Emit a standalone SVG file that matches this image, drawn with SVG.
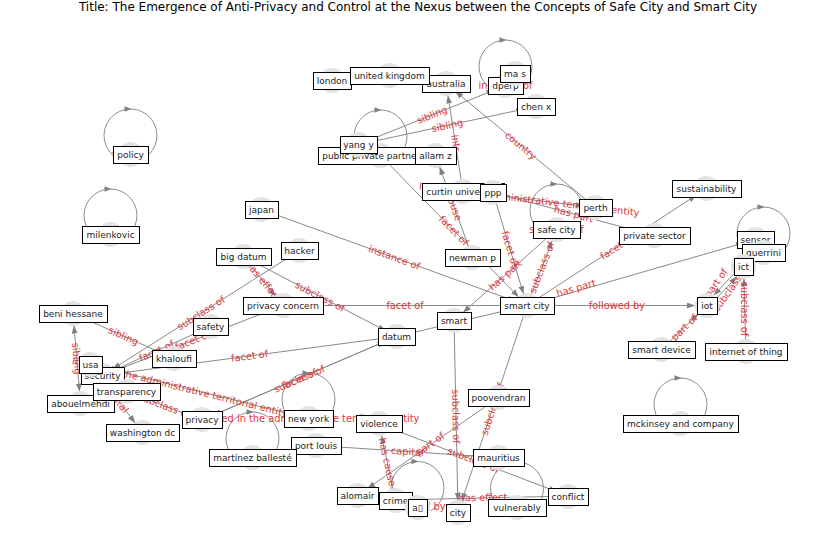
<svg xmlns="http://www.w3.org/2000/svg" xmlns:xlink="http://www.w3.org/1999/xlink" width="837" height="559" viewBox="0 0 837 559">
<defs>
<marker id="ah" markerUnits="userSpaceOnUse" markerWidth="8" markerHeight="6" refX="8" refY="3" orient="auto-start-reverse" viewBox="0 0 8 6"><path d="M0,0 L8,3 L0,6 Z" fill="#808080"/></marker>
<path id="la" d="M-3.5,-2.8 L3.5,0 L-3.5,2.8 Z" fill="#808080"/>
</defs>
<style>
.e{stroke:#8a8a8a;stroke-width:1;fill:none;marker-end:url(#ah)}
.lp{stroke:#8c8c8c;stroke-width:1;fill:none}
.el{font-family:"DejaVu Sans",sans-serif;font-size:9.8px;fill:#d9383a;text-anchor:middle}
.nc{fill:#e3e3e3}
.nb{fill:#fff;stroke:#000;stroke-width:1;shape-rendering:crispEdges}
.nt{font-family:"DejaVu Sans",sans-serif;font-size:9px;fill:#222;text-anchor:middle}
.ti{font-family:"DejaVu Sans",sans-serif;font-size:12px;fill:#000;text-anchor:middle}
</style>
<rect width="837" height="559" fill="#fff"/>
<text class="ti" x="418" y="11">Title: The Emergence of Anti-Privacy and Control at the Nexus between the Concepts of Safe City and Smart City</text>

<g id="connectors">
<path class="e" d="M358.5,144.5 L494.4,90"/>
<path class="e" d="M358.5,144.5 L524.3,109"/>
<path class="e" d="M463,191.5 L447.9,95.4"/>
<path class="e" d="M595.5,207.5 L455.2,91.2"/>
<path class="e" d="M463,191.5 L583.6,206.1"/>
<path class="e" d="M493,192.5 L642.9,232.4"/>
<path class="e" d="M472.5,257.5 L439.6,166.8"/>
<path class="e" d="M380.5,155.5 L518.6,296.9"/>
<path class="e" d="M493,192.5 L523.5,294"/>
<path class="e" d="M527,305.5 L552.2,240.7"/>
<path class="e" d="M556.5,229.5 L463,312.5"/>
<path class="e" d="M261.5,209.5 L515.7,301.4"/>
<path class="e" d="M243.5,256.5 L385.9,330.9"/>
<path class="e" d="M243.5,256.5 L275.5,296.2"/>
<path class="e" d="M299.5,250.5 L112.6,369.1"/>
<path class="e" d="M283,305.5 L113.7,371.2"/>
<path class="e" d="M210.5,326.5 L113.4,370.5"/>
<path class="e" d="M396.5,336.5 L114.4,373.9"/>
<path class="e" d="M396.5,336.5 L213,415.3"/>
<path class="e" d="M202,420 L385.5,341.2"/>
<path class="e" d="M396.5,336.5 L515.3,308.3"/>
<path class="e" d="M283,305.5 L515,305.5"/>
<path class="e" d="M527,305.5 L695,305.5"/>
<path class="e" d="M527,305.5 L696.4,195.1"/>
<path class="e" d="M527,305.5 L744,242.8"/>
<path class="e" d="M661.5,349.5 L698.4,313.8"/>
<path class="e" d="M708.5,306.9 L736.8,276.7"/>
<path class="e" d="M742,265.1 L713.7,295.3"/>
<path class="e" d="M746,351.5 L743.9,278.5"/>
<path class="e" d="M73,313.5 L163,353.6"/>
<path class="e" style="marker-start:url(#ah)" d="M74,325.5 L79.5,391.5"/>
<path class="e" d="M308.5,418.5 L102.1,367.4"/>
<path class="e" d="M90.5,364.5 L135.2,423"/>
<path class="e" d="M202,420 L137.7,395.7"/>
<path class="e" d="M498.5,457.5 L328,446.3"/>
<path class="e" d="M498.5,397.5 L367.4,488.6"/>
<path class="e" d="M395.5,500 L381.5,435.7"/>
<path class="e" d="M379,424 L556.8,491.7"/>
<path class="e" d="M395.5,500 L556,496.3"/>
<path class="e" d="M454,320.5 L457.8,500.5"/>
<path class="e" d="M527,305.5 L461.8,501.1"/>
<!-- self loops -->
<path class="lp" d="M117.2,158.4 A26.5,26.5 0 1 1 143.8,158.4"/><use xlink:href="#la" href="#la" x="128" y="109"/>
<path class="lp" d="M97.2,238.4 A26.5,26.5 0 1 1 123.8,238.4"/><use xlink:href="#la" href="#la" x="108" y="189"/>
<path class="lp" d="M367.2,159.4 A26.5,26.5 0 1 1 393.8,159.4"/><use xlink:href="#la" href="#la" x="378" y="110"/>
<path class="lp" d="M492.2,89.4 A26.5,26.5 0 1 1 518.8,89.4"/><use xlink:href="#la" href="#la" x="503" y="40"/>
<path class="lp" d="M543.2,233.4 A26.5,26.5 0 1 1 569.8,233.4"/><use xlink:href="#la" href="#la" x="554" y="184"/>
<path class="lp" d="M750.2,256.4 A26.5,26.5 0 1 1 776.8,256.4"/><use xlink:href="#la" href="#la" x="761" y="207"/>
<path class="lp" d="M295.2,422.4 A26.5,26.5 0 1 1 321.8,422.4"/><use xlink:href="#la" href="#la" x="306" y="373"/>
<path class="lp" d="M239.2,461.4 A26.5,26.5 0 1 1 265.8,461.4"/><use xlink:href="#la" href="#la" x="250" y="412"/>
<path class="lp" d="M404.2,510.9 A26.5,26.5 0 1 1 430.8,510.9"/><use xlink:href="#la" href="#la" x="415" y="461.5"/>
<path class="lp" d="M503.7,511.4 A26.5,26.5 0 1 1 530.3,511.4"/><use xlink:href="#la" href="#la" x="514" y="462"/>
<path class="lp" d="M667.2,427.4 A26.5,26.5 0 1 1 693.8,427.4"/><use xlink:href="#la" href="#la" x="678" y="378"/>
</g>

<g id="edge-labels">
<text class="el" transform="translate(432,115) rotate(-21.9)" dy="3.4">sibling</text>
<text class="el" transform="translate(447.3,125.5) rotate(-12.1)" dy="3.4">sibling</text>
<text class="el" transform="translate(456,143) rotate(81)" dy="3.4">intr</text>
<text class="el" transform="translate(520.8,145.5) rotate(39.7)" dy="3.4">country</text>
<text class="el" transform="translate(529.3,199.5) rotate(6.9)" dy="3.4">located in the administrative territorial entity</text>
<text class="el" transform="translate(573.8,214) rotate(14.9)" dy="3.4">has part</text>
<text class="el" transform="translate(454,206.5) rotate(70)" dy="3.4">house</text>
<text class="el" transform="translate(453.8,230.5) rotate(45.7)" dy="3.4">facet of</text>
<text class="el" transform="translate(510,249) rotate(73.3)" dy="3.4">facet of</text>
<text class="el" transform="translate(541.8,267.5) rotate(-68.8)" dy="3.4">subclass of</text>
<text class="el" transform="translate(505.3,275) rotate(-41.6)" dy="3.4">has part</text>
<text class="el" transform="translate(394.3,257.5) rotate(19.9)" dy="3.4">instance of</text>
<text class="el" transform="translate(320,296.5) rotate(27.6)" dy="3.4">subclass of</text>
<text class="el" transform="translate(263.3,281) rotate(51.1)" dy="3.4">has effect</text>
<text class="el" transform="translate(201,313) rotate(-32.4)" dy="3.4">subclass of</text>
<text class="el" transform="translate(192.8,340.5) rotate(-21.2)" dy="3.4">facet of</text>
<text class="el" transform="translate(156.5,351) rotate(-24.4)" dy="3.4">facet of</text>
<text class="el" transform="translate(249.5,356) rotate(-7.6)" dy="3.4">facet of</text>
<text class="el" transform="translate(299.3,379) rotate(-23.2)" dy="3.4">subclass of</text>
<text class="el" transform="translate(299.3,379) rotate(-23.2)" dy="3.4">facet of</text>
<text class="el" transform="translate(405,305.5)" dy="3.4">facet of</text>
<text class="el" transform="translate(617,305.5)" dy="3.4">followed by</text>
<text class="el" transform="translate(616.8,247) rotate(-33.1)" dy="3.4">facet of</text>
<text class="el" transform="translate(576,288) rotate(-16)" dy="3.4">has part</text>
<text class="el" transform="translate(684.3,327.5) rotate(-44)" dy="3.4">part of</text>
<text class="el" transform="translate(716,283) rotate(-55)" dy="3.4">part of</text>
<text class="el" transform="translate(731,288) rotate(-55)" dy="3.4">subclass of</text>
<text class="el" transform="translate(744.8,309) rotate(90)" dy="3.4">subclass of</text>
<text class="el" transform="translate(123.5,336) rotate(24)" dy="3.4">sibling</text>
<text class="el" transform="translate(76.8,358.5) rotate(85)" dy="3.4">sibling</text>
<text class="el" transform="translate(180,387) rotate(13.9)" dy="3.4">located in the administrative territorial entity</text>
<text class="el" transform="translate(116.5,398.5) rotate(52.6)" dy="3.4">capital</text>
<text class="el" transform="translate(164.3,405.8) rotate(20.7)" dy="3.4">subclass of</text>
<text class="el" transform="translate(407.3,451.5) rotate(3.8)" dy="3.4">capital</text>
<text class="el" transform="translate(430,444) rotate(-34.8)" dy="3.4">part of</text>
<text class="el" transform="translate(387.3,462) rotate(77.8)" dy="3.4">has cause</text>
<text class="el" transform="translate(473.5,460) rotate(20.9)" dy="3.4">subclass of</text>
<text class="el" transform="translate(483,497.5) rotate(-1.3)" dy="3.4">has effect</text>
<text class="el" transform="translate(456,416.5) rotate(88.8)" dy="3.4">subclass of</text>
<text class="el" transform="translate(492.5,409) rotate(-71.6)" dy="3.4">subclass of</text>
<text class="el" transform="translate(130.5,154.5)" dy="3.4">facet of</text>
<text class="el" transform="translate(505.5,85.5)" dy="3.4">instance of</text>
<text class="el" transform="translate(556.5,229.5)" dy="3.4">subclass of</text>
<text class="el" transform="translate(308.5,418.5)" dy="3.4">located in the administrative territorial entity</text>
<text class="el" transform="translate(417.5,507)" dy="3.4">followed by</text>
</g>

<g id="n-london"><circle class="nc" cx="332" cy="80.5" r="12.5"/><rect class="nb" x="313" y="72" width="38" height="17"/><text class="nt" x="332" y="83.7">london</text></g>
<g id="n-australia"><circle class="nc" cx="446" cy="83.5" r="12.5"/><rect class="nb" x="422" y="75" width="48" height="17"/><text class="nt" x="446" y="86.7">australia</text></g>
<g id="n-united-kingdom"><circle class="nc" cx="389.5" cy="75.5" r="12.5"/><rect class="nb" x="350" y="67" width="79" height="17"/><text class="nt" x="389.5" y="78.7">united kingdom</text></g>
<g id="n-dperp"><circle class="nc" cx="505.5" cy="85.5" r="12.5"/><rect class="nb" x="488" y="77" width="35" height="17"/><text class="nt" x="505.5" y="88.7">dperp</text></g>
<g id="n-ma-s"><circle class="nc" cx="515" cy="73.5" r="12.5"/><rect class="nb" x="500" y="65" width="30" height="17"/><text class="nt" x="515" y="76.7">ma s</text></g>
<g id="n-chen-x"><circle class="nc" cx="536" cy="106.5" r="12.5"/><rect class="nb" x="517" y="98" width="38" height="17"/><text class="nt" x="536" y="109.7">chen x</text></g>
<g id="n-policy"><circle class="nc" cx="130.5" cy="154.5" r="12.5"/><rect class="nb" x="113" y="146" width="35" height="17"/><text class="nt" x="130.5" y="157.7">policy</text></g>
<g id="n-public-private-partnership"><circle class="nc" cx="380.5" cy="155.5" r="12.5"/><rect class="nb" x="318" y="147" width="125" height="17"/><text class="nt" x="380.5" y="158.7">public private partnership</text></g>
<g id="n-yang-y"><circle class="nc" cx="358.5" cy="144.5" r="12.5"/><rect class="nb" x="340" y="136" width="37" height="17"/><text class="nt" x="358.5" y="147.7">yang y</text></g>
<g id="n-allam-z"><circle class="nc" cx="435.5" cy="155.5" r="12.5"/><rect class="nb" x="415" y="147" width="41" height="17"/><text class="nt" x="435.5" y="158.7">allam z</text></g>
<g id="n-curtin-university"><circle class="nc" cx="463" cy="191.5" r="12.5"/><rect class="nb" x="422" y="183" width="82" height="17"/><text class="nt" x="463" y="194.7">curtin university</text></g>
<g id="n-ppp"><circle class="nc" cx="493" cy="192.5" r="12.5"/><rect class="nb" x="480" y="184" width="26" height="17"/><text class="nt" x="493" y="195.7">ppp</text></g>
<g id="n-perth"><circle class="nc" cx="595.5" cy="207.5" r="12.5"/><rect class="nb" x="579" y="199" width="33" height="17"/><text class="nt" x="595.5" y="210.7">perth</text></g>
<g id="n-sustainability"><circle class="nc" cx="706.5" cy="188.5" r="12.5"/><rect class="nb" x="672" y="180" width="69" height="17"/><text class="nt" x="706.5" y="191.7">sustainability</text></g>
<g id="n-safe-city"><circle class="nc" cx="556.5" cy="229.5" r="12.5"/><rect class="nb" x="533" y="221" width="47" height="17"/><text class="nt" x="556.5" y="232.7">safe city</text></g>
<g id="n-private-sector"><circle class="nc" cx="654.5" cy="235.5" r="12.5"/><rect class="nb" x="619" y="227" width="71" height="17"/><text class="nt" x="654.5" y="238.7">private sector</text></g>
<g id="n-sensor"><circle class="nc" cx="755.5" cy="239.5" r="12.5"/><rect class="nb" x="737" y="231" width="37" height="17"/><text class="nt" x="755.5" y="242.7">sensor</text></g>
<g id="n-guerrini"><circle class="nc" cx="763.5" cy="252.5" r="12.5"/><rect class="nb" x="742" y="244" width="43" height="17"/><text class="nt" x="763.5" y="255.7">guerrini</text></g>
<g id="n-ict"><circle class="nc" cx="743.5" cy="266.5" r="12.5"/><rect class="nb" x="734" y="258" width="19" height="17"/><text class="nt" x="743.5" y="269.7">ict</text></g>
<g id="n-japan"><circle class="nc" cx="261.5" cy="209.5" r="12.5"/><rect class="nb" x="245" y="201" width="33" height="17"/><text class="nt" x="261.5" y="212.7">japan</text></g>
<g id="n-milenkovic"><circle class="nc" cx="110.5" cy="234.5" r="12.5"/><rect class="nb" x="82" y="226" width="57" height="17"/><text class="nt" x="110.5" y="237.7">milenkovic</text></g>
<g id="n-hacker"><circle class="nc" cx="299.5" cy="250.5" r="12.5"/><rect class="nb" x="281" y="242" width="37" height="17"/><text class="nt" x="299.5" y="253.7">hacker</text></g>
<g id="n-big-datum"><circle class="nc" cx="243.5" cy="256.5" r="12.5"/><rect class="nb" x="216" y="248" width="55" height="17"/><text class="nt" x="243.5" y="259.7">big datum</text></g>
<g id="n-newman-p"><circle class="nc" cx="472.5" cy="257.5" r="12.5"/><rect class="nb" x="445" y="249" width="55" height="17"/><text class="nt" x="472.5" y="260.7">newman p</text></g>
<g id="n-privacy-concern"><circle class="nc" cx="283" cy="305.5" r="12.5"/><rect class="nb" x="243" y="297" width="80" height="17"/><text class="nt" x="283" y="308.7">privacy concern</text></g>
<g id="n-smart-city"><circle class="nc" cx="527" cy="305.5" r="12.5"/><rect class="nb" x="500" y="297" width="54" height="17"/><text class="nt" x="527" y="308.7">smart city</text></g>
<g id="n-iot"><circle class="nc" cx="707" cy="305.5" r="12.5"/><rect class="nb" x="697" y="297" width="20" height="17"/><text class="nt" x="707" y="308.7">iot</text></g>
<g id="n-beni-hessane"><circle class="nc" cx="73" cy="313.5" r="12.5"/><rect class="nb" x="39" y="305" width="68" height="17"/><text class="nt" x="73" y="316.7">beni hessane</text></g>
<g id="n-safety"><circle class="nc" cx="210.5" cy="326.5" r="12.5"/><rect class="nb" x="193" y="318" width="35" height="17"/><text class="nt" x="210.5" y="329.7">safety</text></g>
<g id="n-smart"><circle class="nc" cx="454" cy="320.5" r="12.5"/><rect class="nb" x="437" y="312" width="34" height="17"/><text class="nt" x="454" y="323.7">smart</text></g>
<g id="n-datum"><circle class="nc" cx="396.5" cy="336.5" r="12.5"/><rect class="nb" x="378" y="328" width="37" height="17"/><text class="nt" x="396.5" y="339.7">datum</text></g>
<g id="n-smart-device"><circle class="nc" cx="661.5" cy="349.5" r="12.5"/><rect class="nb" x="628" y="341" width="67" height="17"/><text class="nt" x="661.5" y="352.7">smart device</text></g>
<g id="n-internet-of-thing"><circle class="nc" cx="746" cy="351.5" r="12.5"/><rect class="nb" x="705" y="343" width="82" height="17"/><text class="nt" x="746" y="354.7">internet of thing</text></g>
<g id="n-khaloufi"><circle class="nc" cx="174" cy="358.5" r="12.5"/><rect class="nb" x="152" y="350" width="44" height="17"/><text class="nt" x="174" y="361.7">khaloufi</text></g>
<g id="n-security"><circle class="nc" cx="102.5" cy="375.5" r="12.5"/><rect class="nb" x="81" y="367" width="43" height="17"/><text class="nt" x="102.5" y="378.7">security</text></g>
<g id="n-usa"><circle class="nc" cx="90.5" cy="364.5" r="12.5"/><rect class="nb" x="79" y="356" width="23" height="17"/><text class="nt" x="90.5" y="367.7">usa</text></g>
<g id="n-abouelmehdi"><circle class="nc" cx="80.5" cy="403.5" r="12.5"/><rect class="nb" x="47" y="395" width="67" height="17"/><text class="nt" x="80.5" y="406.7">abouelmehdi</text></g>
<g id="n-transparency"><circle class="nc" cx="126.5" cy="391.5" r="12.5"/><rect class="nb" x="93" y="383" width="67" height="17"/><text class="nt" x="126.5" y="394.7">transparency</text></g>
<g id="n-poovendran"><circle class="nc" cx="498.5" cy="397.5" r="12.5"/><rect class="nb" x="468" y="389" width="61" height="17"/><text class="nt" x="498.5" y="400.7">poovendran</text></g>
<g id="n-privacy"><circle class="nc" cx="202" cy="419.5" r="12.5"/><rect class="nb" x="182" y="411" width="40" height="17"/><text class="nt" x="202" y="422.7">privacy</text></g>
<g id="n-new-york"><circle class="nc" cx="308.5" cy="418.5" r="12.5"/><rect class="nb" x="284" y="410" width="49" height="17"/><text class="nt" x="308.5" y="421.7">new york</text></g>
<g id="n-violence"><circle class="nc" cx="379" cy="423.5" r="12.5"/><rect class="nb" x="356" y="415" width="46" height="17"/><text class="nt" x="379" y="426.7">violence</text></g>
<g id="n-mckinsey-and-company"><circle class="nc" cx="680.5" cy="423.5" r="12.5"/><rect class="nb" x="623" y="415" width="115" height="17"/><text class="nt" x="680.5" y="426.7">mckinsey and company</text></g>
<g id="n-washington-dc"><circle class="nc" cx="142.5" cy="432.5" r="12.5"/><rect class="nb" x="106" y="424" width="73" height="17"/><text class="nt" x="142.5" y="435.7">washington dc</text></g>
<g id="n-port-louis"><circle class="nc" cx="316" cy="445.5" r="12.5"/><rect class="nb" x="291" y="437" width="50" height="17"/><text class="nt" x="316" y="448.7">port louis</text></g>
<g id="n-martinez-balleste"><circle class="nc" cx="252.5" cy="457.5" r="12.5"/><rect class="nb" x="209" y="449" width="87" height="17"/><text class="nt" x="252.5" y="460.7">martínez ballesté</text></g>
<g id="n-mauritius"><circle class="nc" cx="498.5" cy="457.5" r="12.5"/><rect class="nb" x="473" y="449" width="51" height="17"/><text class="nt" x="498.5" y="460.7">mauritius</text></g>
<g id="n-alomair"><circle class="nc" cx="357.5" cy="495.5" r="12.5"/><rect class="nb" x="337" y="487" width="41" height="17"/><text class="nt" x="357.5" y="498.7">alomair</text></g>
<g id="n-crime"><circle class="nc" cx="395.5" cy="500.5" r="12.5"/><rect class="nb" x="379" y="492" width="33" height="17"/><text class="nt" x="395.5" y="503.7">crime</text></g>
<g id="n-a"><circle class="nc" cx="417.5" cy="507.5" r="12.5"/><rect class="nb" x="408" y="499" width="19" height="17"/><text class="nt" x="417.5" y="510.7">a▯</text></g>
<g id="n-conflict"><circle class="nc" cx="568" cy="496.5" r="12.5"/><rect class="nb" x="548" y="488" width="40" height="17"/><text class="nt" x="568" y="499.7">conflict</text></g>
<g id="n-vulnerably"><circle class="nc" cx="517" cy="507.5" r="12.5"/><rect class="nb" x="488" y="499" width="58" height="17"/><text class="nt" x="517" y="510.7">vulnerably</text></g>
<g id="n-city"><circle class="nc" cx="458" cy="512.5" r="12.5"/><rect class="nb" x="446" y="504" width="24" height="17"/><text class="nt" x="458" y="515.7">city</text></g>
</svg>
